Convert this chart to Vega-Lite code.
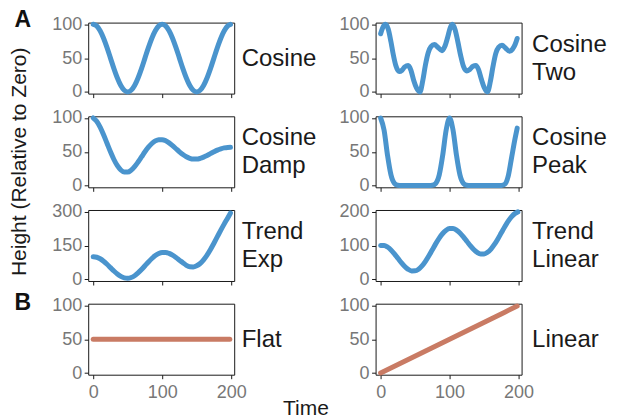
{
  "$schema": "https://vega.github.io/schema/vega-lite/v6.json",
  "padding": {"left": 8.2, "top": 7.6, "right": 5, "bottom": 0},
  "background": "white",
  "config": {
    "font": "Liberation Sans",
    "view": {"stroke": "#1a1a1a", "strokeWidth": 1},
    "axis": {"grid": false, "domain": false, "tickColor": "#1a1a1a", "tickSize": 4, "tickWidth": 1, "labelColor": "#777777", "labelFontSize": 18, "labelFont": "Liberation Sans", "titleFont": "Liberation Sans", "titleFontWeight": "normal", "titleColor": "#1a1a1a", "titleFontSize": 24, "titleLineHeight": 28, "labelFlush": false, "labelOverlap": false},
    "axisY": {"labelPadding": 2.5},
    "axisX": {"labelPadding": 5}
  },
  "datasets": {
    "cosine": [
      {"t":0,"v":100},{"t":5,"v":97.6},{"t":10,"v":90.5},{"t":15,"v":79.4},{"t":20,"v":65.5},{"t":25,"v":50},{"t":30,"v":34.5},{"t":35,"v":20.6},{"t":40,"v":9.5},{"t":45,"v":2.4},{"t":50,"v":0},{"t":55,"v":2.4},{"t":60,"v":9.5},{"t":65,"v":20.6},{"t":70,"v":34.5},{"t":75,"v":50},{"t":80,"v":65.5},{"t":85,"v":79.4},{"t":90,"v":90.5},{"t":95,"v":97.6},{"t":100,"v":100},{"t":105,"v":97.6},{"t":110,"v":90.5},{"t":115,"v":79.4},{"t":120,"v":65.5},{"t":125,"v":50},{"t":130,"v":34.5},{"t":135,"v":20.6},{"t":140,"v":9.5},{"t":145,"v":2.4},{"t":150,"v":0},{"t":155,"v":2.4},{"t":160,"v":9.5},{"t":165,"v":20.6},{"t":170,"v":34.5},{"t":175,"v":50},{"t":180,"v":65.5},{"t":185,"v":79.4},{"t":190,"v":90.5},{"t":195,"v":97.6},{"t":199,"v":99.9}
    ],
    "cosineTwo": [
      {"t":0,"v":86},{"t":3,"v":95},{"t":7,"v":100},{"t":11,"v":93},{"t":15,"v":74},{"t":18,"v":57},{"t":22,"v":39},{"t":27,"v":30},{"t":31,"v":32},{"t":35,"v":37},{"t":40,"v":39},{"t":44,"v":32},{"t":48,"v":17},{"t":52,"v":6},{"t":57,"v":0},{"t":61,"v":16},{"t":65,"v":40},{"t":69,"v":58},{"t":73,"v":67},{"t":78,"v":70},{"t":83,"v":66},{"t":89,"v":61},{"t":93,"v":67},{"t":97,"v":80},{"t":101,"v":95},{"t":104,"v":100},{"t":108,"v":92},{"t":112,"v":74},{"t":116,"v":54},{"t":120,"v":38},{"t":125,"v":31},{"t":129,"v":33},{"t":134,"v":38},{"t":138,"v":39},{"t":142,"v":33},{"t":146,"v":19},{"t":150,"v":7},{"t":155,"v":0},{"t":159,"v":15},{"t":163,"v":38},{"t":167,"v":57},{"t":171,"v":66},{"t":176,"v":69},{"t":181,"v":65},{"t":187,"v":60},{"t":191,"v":63},{"t":195,"v":70},{"t":198,"v":79}
    ],
    "cosineDamp": [
      {"t":0,"v":100},{"t":5,"v":95.2},{"t":10,"v":86.5},{"t":15,"v":75.2},{"t":20,"v":62.6},{"t":25,"v":50},{"t":30,"v":38.6},{"t":35,"v":29.4},{"t":40,"v":23.1},{"t":45,"v":20.0},{"t":50,"v":20.0},{"t":55,"v":22.9},{"t":60,"v":28.1},{"t":65,"v":34.9},{"t":70,"v":42.4},{"t":75,"v":50},{"t":80,"v":56.8},{"t":85,"v":62.3},{"t":90,"v":66.1},{"t":95,"v":68.0},{"t":100,"v":68.0},{"t":105,"v":66.3},{"t":110,"v":63.2},{"t":115,"v":59.1},{"t":120,"v":54.5},{"t":125,"v":50},{"t":130,"v":45.9},{"t":135,"v":42.6},{"t":140,"v":40.3},{"t":145,"v":39.2},{"t":150,"v":39.2},{"t":155,"v":40.2},{"t":160,"v":42.1},{"t":165,"v":44.6},{"t":170,"v":47.3},{"t":175,"v":50},{"t":180,"v":52.5},{"t":185,"v":54.4},{"t":190,"v":55.8},{"t":195,"v":56.5},{"t":199,"v":56.6}
    ],
    "cosinePeak": [
      {"t":0,"v":100},{"t":5,"v":82},{"t":10,"v":44.8},{"t":15,"v":15.8},{"t":20,"v":3.4},{"t":25,"v":0.4},{"t":30,"v":0},{"t":40,"v":0},{"t":50,"v":0},{"t":60,"v":0},{"t":70,"v":0},{"t":75,"v":0.4},{"t":80,"v":3.4},{"t":85,"v":15.8},{"t":90,"v":44.8},{"t":95,"v":82},{"t":100,"v":100},{"t":105,"v":82},{"t":110,"v":44.8},{"t":115,"v":15.8},{"t":120,"v":3.4},{"t":125,"v":0.4},{"t":130,"v":0},{"t":140,"v":0},{"t":150,"v":0},{"t":160,"v":0},{"t":170,"v":0},{"t":175,"v":0.3},{"t":180,"v":2},{"t":185,"v":14},{"t":190,"v":42},{"t":195,"v":70},{"t":198,"v":85}
    ],
    "trendExp": [
      {"t":0,"v":100},{"t":5,"v":97.9},{"t":10,"v":91.1},{"t":15,"v":80.3},{"t":20,"v":66.8},{"t":25,"v":51.7},{"t":30,"v":36.7},{"t":35,"v":23.3},{"t":40,"v":12.8},{"t":45,"v":6.4},{"t":50,"v":4.7},{"t":55,"v":7.9},{"t":60,"v":15.9},{"t":65,"v":28.1},{"t":70,"v":43.1},{"t":75,"v":59.9},{"t":80,"v":76.8},{"t":85,"v":92.4},{"t":90,"v":105.3},{"t":95,"v":114.4},{"t":100,"v":119.0},{"t":105,"v":119.1},{"t":110,"v":114.8},{"t":115,"v":106.9},{"t":120,"v":96.5},{"t":125,"v":84.9},{"t":130,"v":73.8},{"t":135,"v":62},{"t":140,"v":55.5},{"t":145,"v":55},{"t":150,"v":60},{"t":155,"v":70},{"t":160,"v":86},{"t":165,"v":107},{"t":170,"v":132},{"t":175,"v":160},{"t":180,"v":189},{"t":185,"v":218},{"t":190,"v":246},{"t":195,"v":272},{"t":199,"v":294}
    ],
    "trendLinear": [
      {"t":0,"v":100},{"t":5,"v":100.1},{"t":10,"v":95.5},{"t":15,"v":86.9},{"t":20,"v":75.5},{"t":25,"v":62.5},{"t":30,"v":49.5},{"t":35,"v":38.1},{"t":40,"v":29.5},{"t":45,"v":24.9},{"t":50,"v":25},{"t":55,"v":29.9},{"t":60,"v":39.5},{"t":65,"v":53.1},{"t":70,"v":69.5},{"t":75,"v":87.5},{"t":80,"v":105.5},{"t":85,"v":121.9},{"t":90,"v":135.5},{"t":95,"v":145.1},{"t":100,"v":150},{"t":105,"v":150.1},{"t":110,"v":145.5},{"t":115,"v":136.9},{"t":120,"v":125.5},{"t":125,"v":112.5},{"t":130,"v":99.5},{"t":135,"v":88.1},{"t":140,"v":79.5},{"t":145,"v":74.9},{"t":150,"v":75},{"t":155,"v":79.9},{"t":160,"v":89.5},{"t":165,"v":103.1},{"t":170,"v":119.5},{"t":175,"v":137.5},{"t":180,"v":155.5},{"t":185,"v":171.9},{"t":190,"v":185.5},{"t":195,"v":195.1},{"t":199,"v":199.4}
    ],
    "flat": [
      {"t":0,"v":50},{"t":20,"v":50},{"t":40,"v":50},{"t":60,"v":50},{"t":80,"v":50},{"t":100,"v":50},{"t":120,"v":50},{"t":140,"v":50},{"t":160,"v":50},{"t":180,"v":50},{"t":198,"v":50}
    ],
    "linear": [
      {"t":0,"v":0},{"t":20,"v":10},{"t":40,"v":20},{"t":60,"v":30},{"t":80,"v":40},{"t":100,"v":50},{"t":120,"v":60},{"t":140,"v":70},{"t":160,"v":80},{"t":180,"v":90},{"t":198,"v":99}
    ]
  },
  "columns": 2,
  "spacing": {"row": 22.7, "column": 141.4},
  "bounds": "flush",
  "concat": [
    {
      "width": 146, "height": 71,
      "data": {"name": "cosine"},
      "mark": {"type": "line", "color": "#4a94cd", "strokeWidth": 5, "strokeCap": "round", "interpolate": "monotone"},
      "encoding": {
        "x": {"field": "t", "type": "quantitative", "scale": {"domain": [-7.3, 204.4], "nice": false, "zero": false}, "axis": {"values": [0, 100, 200], "labels": false, "title": "Cosine", "titleX": 153, "titleY": -35.5, "titleAngle": 0, "titleAlign": "left", "titleBaseline": "middle"}},
        "y": {"field": "v", "type": "quantitative", "scale": {"domain": [-2.5, 102.5], "nice": false, "zero": false}, "axis": {"values": [0, 50, 100], "title": "A", "titleAngle": 0, "titleAlign": "left", "titleBaseline": "alphabetic", "titleX": -74.3, "titleY": 3.7, "titleFontSize": 23, "titleFontWeight": "bold", "titleColor": "#111111"}}
      }
    },
    {
      "width": 146, "height": 71,
      "data": {"name": "cosineTwo"},
      "mark": {"type": "line", "color": "#4a94cd", "strokeWidth": 5, "strokeCap": "round", "interpolate": "monotone"},
      "encoding": {
        "x": {"field": "t", "type": "quantitative", "scale": {"domain": [-7.3, 204.4], "nice": false, "zero": false}, "axis": {"values": [0, 100, 200], "labels": false, "title": null}},
        "y": {"field": "v", "type": "quantitative", "scale": {"domain": [-2.5, 102.5], "nice": false, "zero": false}, "axis": {"values": [0, 50, 100], "title": ["Cosine", "Two"], "titleX": 156, "titleY": 21.5, "titleAngle": 0, "titleAlign": "left", "titleBaseline": "middle"}}
      }
    },
    {
      "width": 146, "height": 71,
      "data": {"name": "cosineDamp"},
      "mark": {"type": "line", "color": "#4a94cd", "strokeWidth": 5, "strokeCap": "round", "interpolate": "monotone"},
      "encoding": {
        "x": {"field": "t", "type": "quantitative", "scale": {"domain": [-7.3, 204.4], "nice": false, "zero": false}, "axis": {"values": [0, 100, 200], "labels": false, "title": ["Cosine", "Damp"], "titleX": 153, "titleY": -49.5, "titleAngle": 0, "titleAlign": "left", "titleBaseline": "middle"}},
        "y": {"field": "v", "type": "quantitative", "scale": {"domain": [-2.5, 102.5], "nice": false, "zero": false}, "axis": {"values": [0, 50, 100], "title": "Height (Relative to Zero)", "titleAngle": 270, "titleAlign": "center", "titleBaseline": "alphabetic", "titleX": -62.3, "titleY": 45, "titleFontSize": 21}}
      }
    },
    {
      "width": 146, "height": 71,
      "data": {"name": "cosinePeak"},
      "mark": {"type": "line", "color": "#4a94cd", "strokeWidth": 5, "strokeCap": "round", "interpolate": "monotone"},
      "encoding": {
        "x": {"field": "t", "type": "quantitative", "scale": {"domain": [-7.3, 204.4], "nice": false, "zero": false}, "axis": {"values": [0, 100, 200], "labels": false, "title": null}},
        "y": {"field": "v", "type": "quantitative", "scale": {"domain": [-2.5, 102.5], "nice": false, "zero": false}, "axis": {"values": [0, 50, 100], "title": ["Cosine", "Peak"], "titleX": 156, "titleY": 21.5, "titleAngle": 0, "titleAlign": "left", "titleBaseline": "middle"}}
      }
    },
    {
      "width": 146, "height": 71,
      "data": {"name": "trendExp"},
      "mark": {"type": "line", "color": "#4a94cd", "strokeWidth": 5, "strokeCap": "round", "interpolate": "monotone"},
      "encoding": {
        "x": {"field": "t", "type": "quantitative", "scale": {"domain": [-7.3, 204.4], "nice": false, "zero": false}, "axis": {"values": [0, 100, 200], "labels": false, "title": ["Trend", "Exp"], "titleX": 153, "titleY": -49.5, "titleAngle": 0, "titleAlign": "left", "titleBaseline": "middle"}},
        "y": {"field": "v", "type": "quantitative", "scale": {"domain": [-7.5, 307.5], "nice": false, "zero": false}, "axis": {"values": [0, 150, 300], "title": null}}
      }
    },
    {
      "width": 146, "height": 71,
      "data": {"name": "trendLinear"},
      "mark": {"type": "line", "color": "#4a94cd", "strokeWidth": 5, "strokeCap": "round", "interpolate": "monotone"},
      "encoding": {
        "x": {"field": "t", "type": "quantitative", "scale": {"domain": [-7.3, 204.4], "nice": false, "zero": false}, "axis": {"values": [0, 100, 200], "labels": false, "title": null}},
        "y": {"field": "v", "type": "quantitative", "scale": {"domain": [-5, 205], "nice": false, "zero": false}, "axis": {"values": [0, 100, 200], "title": ["Trend", "Linear"], "titleX": 156, "titleY": 21.5, "titleAngle": 0, "titleAlign": "left", "titleBaseline": "middle"}}
      }
    },
    {
      "width": 146, "height": 71,
      "data": {"name": "flat"},
      "mark": {"type": "line", "color": "#c97b64", "strokeWidth": 5, "strokeCap": "round"},
      "encoding": {
        "x": {"field": "t", "type": "quantitative", "scale": {"domain": [-7.3, 204.4], "nice": false, "zero": false}, "axis": {"values": [0, 100, 200], "title": "Flat", "titleX": 153, "titleY": -35.5, "titleAngle": 0, "titleAlign": "left", "titleBaseline": "middle"}},
        "y": {"field": "v", "type": "quantitative", "scale": {"domain": [-2.5, 102.5], "nice": false, "zero": false}, "axis": {"values": [0, 50, 100], "title": "B", "titleAngle": 0, "titleAlign": "left", "titleBaseline": "alphabetic", "titleX": -74.3, "titleY": 6, "titleFontSize": 23, "titleFontWeight": "bold", "titleColor": "#111111"}}
      }
    },
    {
      "width": 146, "height": 71,
      "data": {"name": "linear"},
      "mark": {"type": "line", "color": "#c97b64", "strokeWidth": 5, "strokeCap": "round"},
      "encoding": {
        "x": {"field": "t", "type": "quantitative", "scale": {"domain": [-7.3, 204.4], "nice": false, "zero": false}, "axis": {"values": [0, 100, 200], "title": "Time", "titleAngle": 0, "titleAlign": "center", "titleBaseline": "alphabetic", "titleX": -70.2, "titleY": 39.6, "titleFontSize": 21}},
        "y": {"field": "v", "type": "quantitative", "scale": {"domain": [-2.5, 102.5], "nice": false, "zero": false}, "axis": {"values": [0, 50, 100], "title": "Linear", "titleX": 156, "titleY": 35.5, "titleAngle": 0, "titleAlign": "left", "titleBaseline": "middle"}}
      }
    }
  ]
}
